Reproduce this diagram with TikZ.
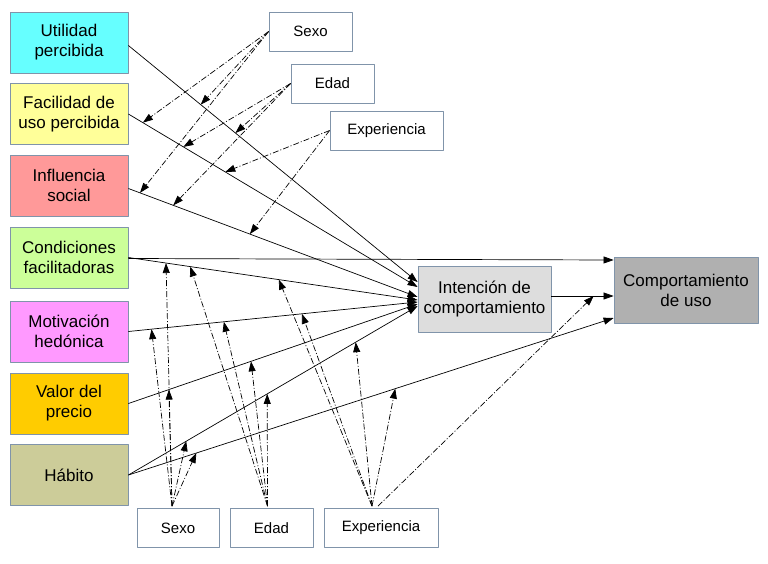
\documentclass[tikz,border=0pt]{standalone}
\usepackage{fontspec}
\setmainfont{Liberation Sans}
\usetikzlibrary{arrows.meta}
\definecolor{borde}{RGB}{128,148,170}
\definecolor{cUtil}{HTML}{66FFFF}
\definecolor{cFac}{HTML}{FFFF99}
\definecolor{cInf}{HTML}{FF9999}
\definecolor{cCond}{HTML}{CCFF99}
\definecolor{cMot}{HTML}{FF99FF}
\definecolor{cVal}{HTML}{FFCC00}
\definecolor{cHab}{HTML}{CCCC99}
\definecolor{cInt}{HTML}{DDDDDD}
\definecolor{cComp}{HTML}{B0B0B0}
\begin{document}
\begin{tikzpicture}[x=1pt, y=-1pt, line join=round,
	constructo/.style={draw=borde, line width=0.8pt, minimum width=118pt, minimum height=61pt, align=center, inner sep=2pt, font=\fontsize{17}{20}\selectfont},
	moderador/.style={draw=borde, fill=white, line width=0.8pt, minimum height=39pt, inner sep=2pt, font=\fontsize{15}{18}\selectfont},
	flecha/.style={-{Triangle[length=10pt,width=7pt]}, line width=0.7pt},
	modera/.style={flecha, dash pattern=on 6pt off 2pt on 1pt off 2pt}]
	\useasboundingbox (0,0) rectangle (768,563);
	
	% ====== CONSTRUCTOS ======
	\node[constructo, fill=cUtil] (util) at (69,42.5) {Utilidad\\percibida};
	\node[constructo, fill=cFac] (fac) at (69,114) {Facilidad de\\uso percibida};
	\node[constructo, fill=cInf] (inf) at (69,185.5) {Influencia\\social};
	\node[constructo, fill=cCond] (cond) at (69,257.5) {Condiciones\\facilitadoras};
	\node[constructo, fill=cMot] (mot) at (69,331.5) {Motivación\\hedónica};
	\node[constructo, fill=cVal] (val) at (69,403.5) {Valor del\\precio};
	\node[constructo, fill=cHab] (hab) at (69,475) {Hábito};
	
	\node[constructo, fill=cInt, minimum width=133pt, minimum height=66pt] (int) at (484.5,299) {Intención de\\comportamiento};
	\node[constructo, fill=cComp, minimum width=144pt, minimum height=66pt] (comp) at (686,290) {Comportamiento\\de uso};
	
	% ====== MODERADORES ======
	\node[moderador, minimum width=83pt] (sexoA) at (310.5,31.5) {Sexo};
	\node[moderador, minimum width=83pt] (edadA) at (332.5,83.5) {Edad};
	\node[moderador, minimum width=113pt] (expA) at (386.5,130.5) {Experiencia};
	\node[moderador, minimum width=82pt] (sexoB) at (178,528) {Sexo};
	\node[moderador, minimum width=83pt] (edadB) at (271.5,528) {Edad};
	\node[moderador, minimum width=114pt] (expB) at (381,528) {Experiencia};
	
	% ====== RELACIONES DIRECTAS ======
	\draw[flecha] ([yshift=-3pt]util.east) -- coordinate[pos=0.25] (u1) coordinate[pos=0.37] (u2) ([yshift=17pt]int.west);
	\draw[flecha] (fac.east) -- coordinate[pos=0.05] (f1) coordinate[pos=0.19] (f2) coordinate[pos=0.335] (f3) ([yshift=12pt]int.west);
	\draw[flecha] ([yshift=-3pt]inf.east) -- coordinate[pos=0.04] (i1) coordinate[pos=0.155] (i2) coordinate[pos=0.42] (i3) ([yshift=2pt]int.west);
	\draw[flecha] (cond.east) -- coordinate[pos=0.13] (c1) coordinate[pos=0.214] (c2) coordinate[pos=0.52] (c3) ([yshift=-1pt]int.west);
	\draw[flecha] ([yshift=-1pt]cond.east) -- ([yshift=30pt]comp.west);
	\draw[flecha] (mot.east) -- coordinate[pos=0.08] (m1) coordinate[pos=0.33] (m2) coordinate[pos=0.6] (m3) ([yshift=-3pt]int.west);
	\draw[flecha] (val.east) -- coordinate[pos=0.14] (v1) coordinate[pos=0.424] (v2) ([yshift=-5pt]int.west);
	\draw[flecha] (hab.east) -- coordinate[pos=0.2] (h1) coordinate[pos=0.48] (h2) coordinate[pos=0.786] (h3) ([yshift=-7pt]int.west);
	\draw[flecha] (hab.east) -- coordinate[pos=0.14] (k1) coordinate[pos=0.55] (k2) ([yshift=-28pt]comp.west);
	\draw[flecha] ([yshift=3pt]int.east) -- coordinate[pos=0.68] (ic) ([yshift=-6pt]comp.west);
	
	% ====== EFECTOS MODERADORES (arriba) ======
	\foreach \t in {u1,f1,i1} \draw[modera] (sexoA.west) -- (\t);
	\foreach \t in {u2,f2,i2} \draw[modera] (edadA.west) -- (\t);
	\foreach \t in {f3,i3} \draw[modera] (expA.west) -- (\t);
	
	% ====== EFECTOS MODERADORES (abajo) ======
	\foreach \t in {c1,m1,v1,h1,k1} \draw[modera] ([xshift=-6pt,yshift=2pt]sexoB.north) -- (\t);
	\foreach \t in {c2,m2,v2,h2} \draw[modera] ([xshift=-4pt,yshift=2pt]edadB.north) -- (\t);
	\foreach \t in {c3,m3,h3,k2} \draw[modera] ([xshift=-9pt,yshift=2pt]expB.north) -- (\t);
	\draw[modera] ([xshift=-3pt,yshift=2pt]expB.north) -- (ic);
\end{tikzpicture}
\end{document}
